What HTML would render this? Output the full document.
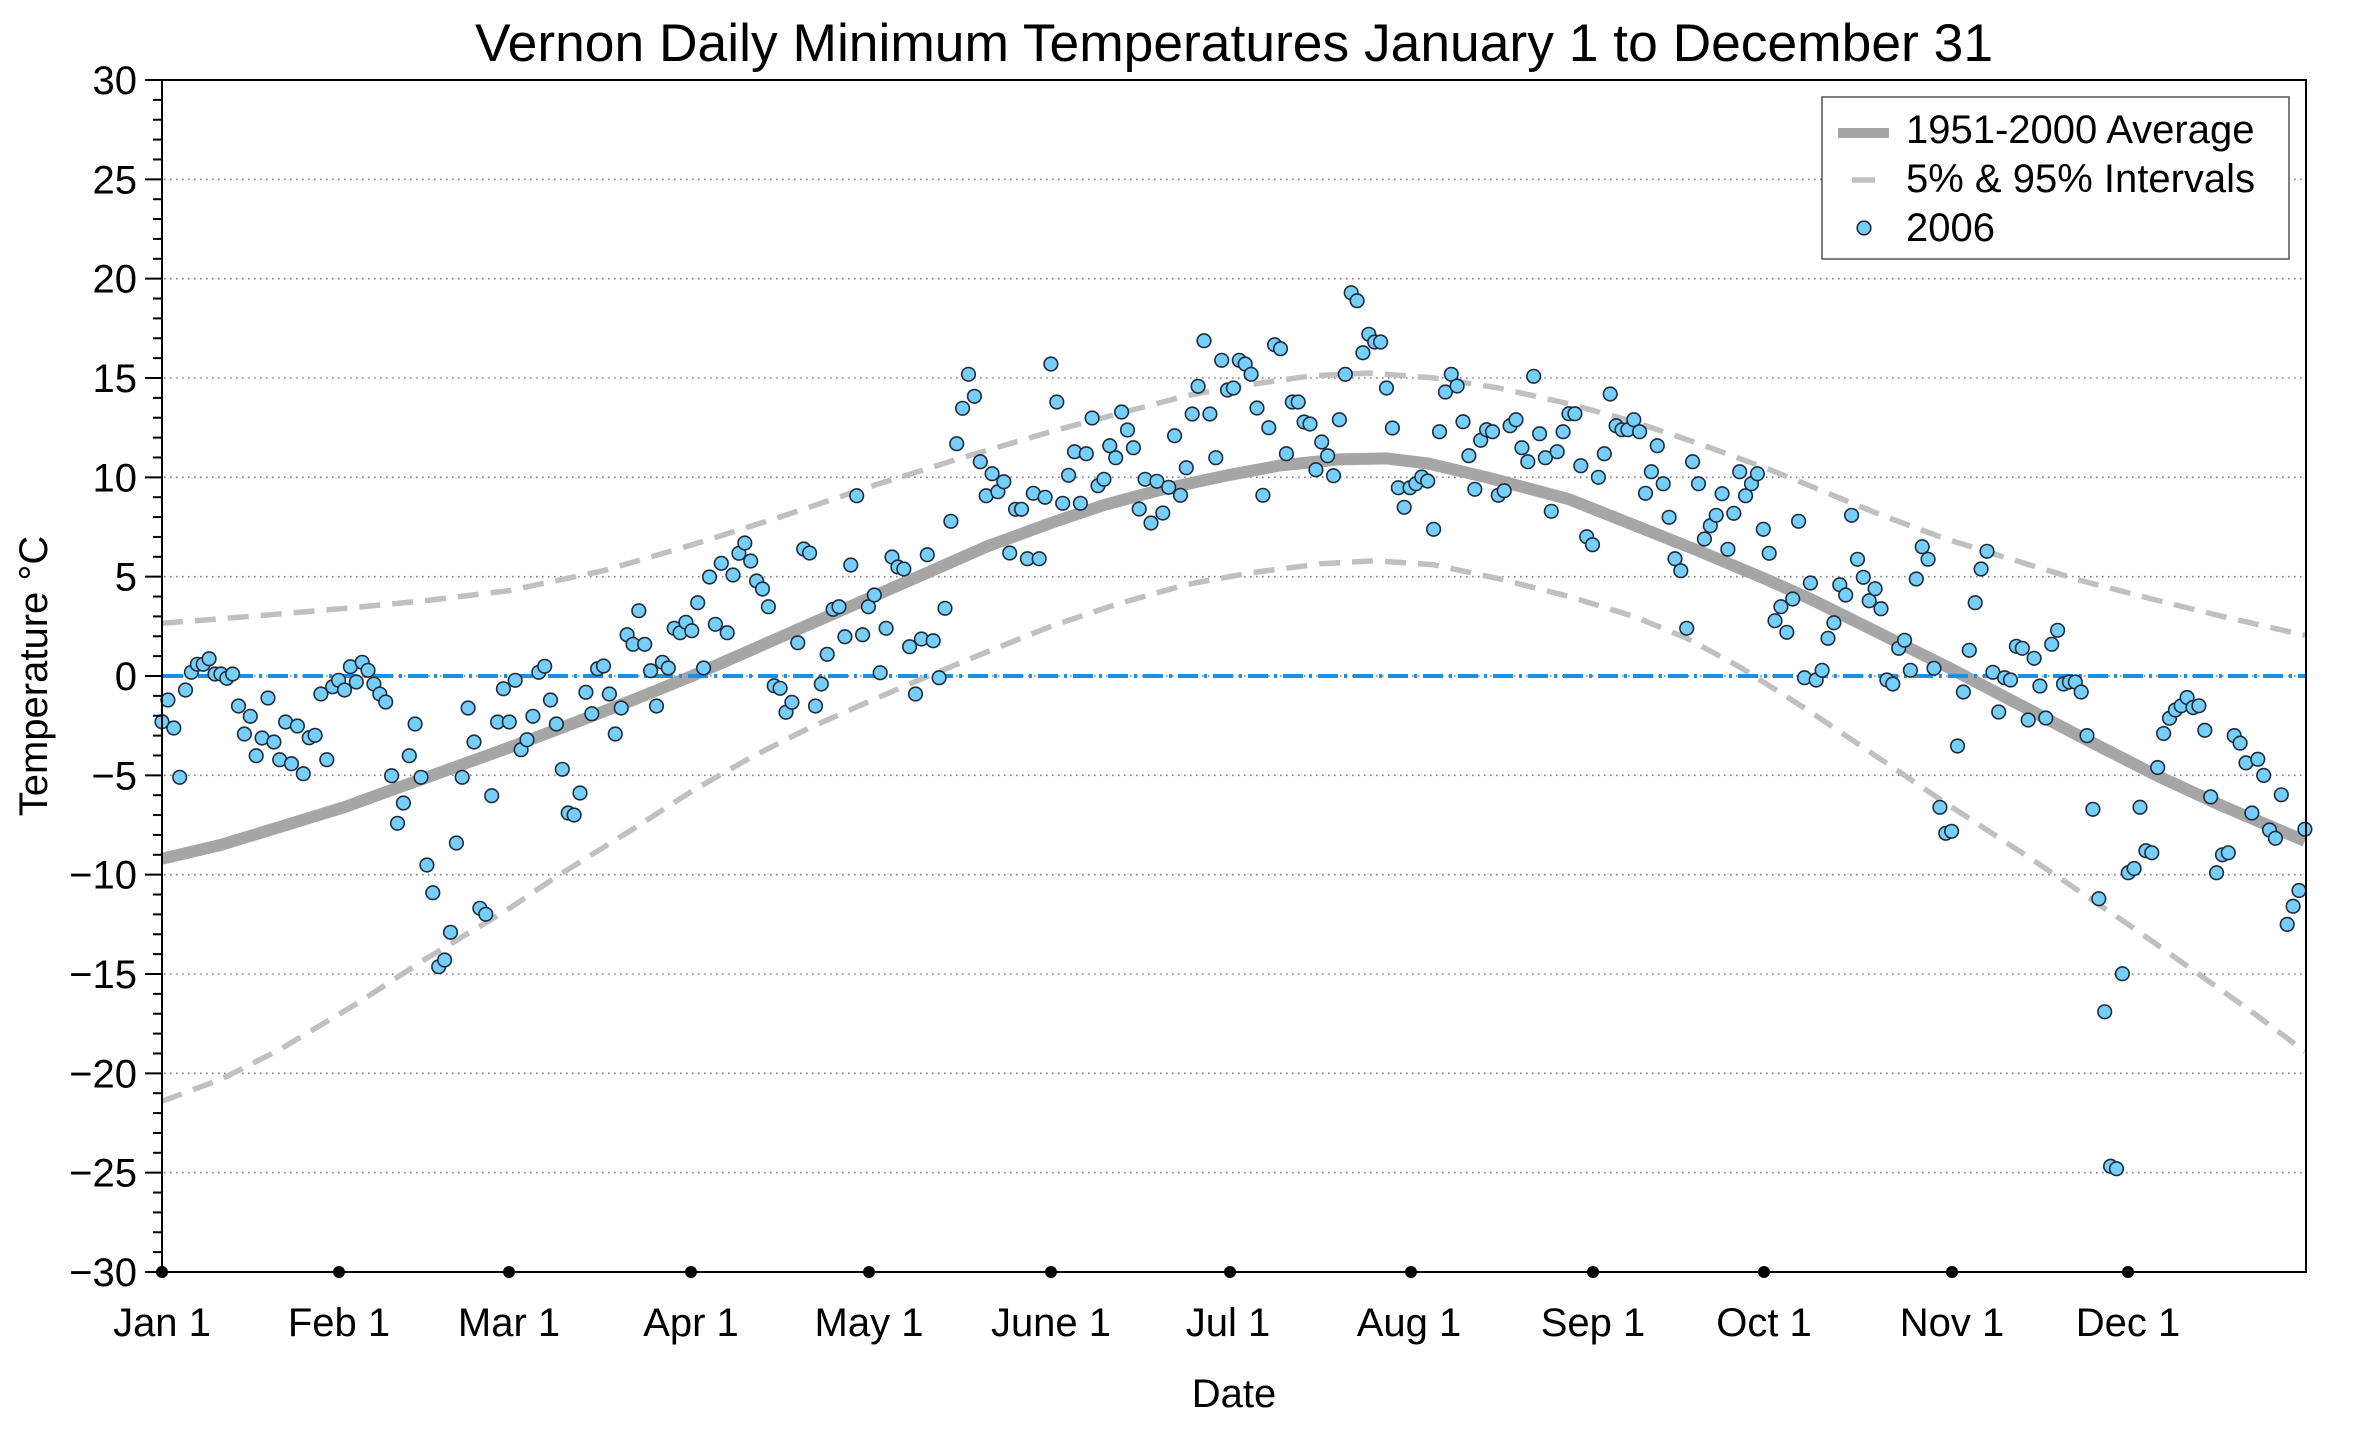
<!DOCTYPE html>
<html><head><meta charset="utf-8"><style>
html,body{margin:0;padding:0;background:#fff;}
body{width:2360px;height:1432px;overflow:hidden;}
svg{display:block;}
text{font-family:"Liberation Sans",Arial,Helvetica,sans-serif;fill:#000;}
</style></head><body>
<svg width="2360" height="1432" viewBox="0 0 2360 1432" xmlns="http://www.w3.org/2000/svg">
<rect width="2360" height="1432" fill="#fff"/>
<text x="1234" y="61" font-size="53" text-anchor="middle" textLength="1518" lengthAdjust="spacingAndGlyphs">Vernon Daily Minimum Temperatures January 1 to December 31</text>
<g stroke="#808080" stroke-width="1.6" stroke-dasharray="1.6 4.4" fill="none">
<line x1="164" y1="179.3" x2="2306" y2="179.3"/>
<line x1="164" y1="278.7" x2="2306" y2="278.7"/>
<line x1="164" y1="378" x2="2306" y2="378"/>
<line x1="164" y1="477.3" x2="2306" y2="477.3"/>
<line x1="164" y1="576.7" x2="2306" y2="576.7"/>
<line x1="164" y1="676" x2="2306" y2="676"/>
<line x1="164" y1="775.3" x2="2306" y2="775.3"/>
<line x1="164" y1="874.7" x2="2306" y2="874.7"/>
<line x1="164" y1="974" x2="2306" y2="974"/>
<line x1="164" y1="1073.3" x2="2306" y2="1073.3"/>
<line x1="164" y1="1172.7" x2="2306" y2="1172.7"/>
</g>
<g fill="none" stroke="#c0c0c0" stroke-width="5.5" stroke-dasharray="21 12" stroke-linejoin="round">
<polyline points="162,623.3 250.3,616.4 344.5,608.4 426.9,600.5 509.3,590.6 603.5,570.7 691.8,544.9 780.1,517 868.4,487.2 956.7,459.4 1050.9,431.6 1133.4,409.7 1186.3,395.8 1227.5,387.9 1310,376 1368.8,373 1433.6,377.9 1498.3,387.9 1569,403.8 1633.8,421.7 1698.5,443.5 1769.2,469.4 1810.4,486 1881,515 1945.8,538.9 2016.4,560.8 2081.2,580.6 2157.7,600.5 2222.5,616.4 2304.9,635.3"/>
<polyline points="162,1101.2 220.9,1079.4 279.7,1049.6 356.3,1003.9 426.9,958.2 509.3,908.5 556.4,876.7 633,829 691.8,791.2 750.7,757.5 809.6,727.7 868.4,701.8 921.4,679 986.2,652.2 1050.9,626.3 1115.7,604.5 1186.3,584.6 1251.1,572.7 1321.7,563.7 1374.7,560.8 1433.6,564.7 1498.3,578.6 1569,596.5 1633.8,616.4 1686.7,638.2 1739.7,666.9 1810.4,711.8 1881,759.5 1945.8,803.2 2028.2,856.8 2069.4,884.6 2128.3,924.4 2193,970.1 2251.9,1011.8 2304.9,1051.5"/>
</g>
<polyline fill="none" stroke="#a6a6a6" stroke-width="12" stroke-linejoin="round" points="162,858.8 220.9,844.9 279.7,827 344.5,807.1 426.9,777.3 509.3,747.5 562.3,727.5 633,700 691.8,676 750.7,650.2 809.6,624.3 868.4,598.5 927.3,572.7 986.2,546.8 1050.9,523 1103.9,505.1 1162.8,489.2 1227.5,475.3 1280.5,465.4 1339.4,459.4 1386.5,458.4 1427.7,463.4 1486.6,477.3 1569,499.2 1633.8,525 1698.5,550.8 1769.2,580.6 1810.4,599 1881,634 1945.8,666.1 2016.4,703 2081.2,737 2157.7,776 2222.5,806 2304.9,840.9"/>
<line x1="163" y1="676" x2="2305" y2="676" stroke="#1a8fe6" stroke-width="4" stroke-dasharray="20 6 3 6"/>
<g fill="#76cffa" stroke="#1f2d3a" stroke-width="1.6">
<circle cx="162" cy="721.7" r="6.8"/><circle cx="167.9" cy="700" r="6.8"/><circle cx="173.8" cy="728" r="6.8"/><circle cx="179.7" cy="777.3" r="6.8"/><circle cx="185.5" cy="690" r="6.8"/><circle cx="191.4" cy="672.3" r="6.8"/><circle cx="197.3" cy="664.3" r="6.8"/><circle cx="203.2" cy="664.3" r="6.8"/><circle cx="209.1" cy="658.7" r="6.8"/><circle cx="215" cy="674" r="6.8"/>
<circle cx="220.9" cy="674" r="6.8"/><circle cx="226.8" cy="678.3" r="6.8"/><circle cx="232.6" cy="674" r="6.8"/><circle cx="238.5" cy="706" r="6.8"/><circle cx="244.4" cy="734" r="6.8"/><circle cx="250.3" cy="716.3" r="6.8"/><circle cx="256.2" cy="755.7" r="6.8"/><circle cx="262.1" cy="738" r="6.8"/><circle cx="268" cy="698" r="6.8"/><circle cx="273.9" cy="742" r="6.8"/>
<circle cx="279.7" cy="759.7" r="6.8"/><circle cx="285.6" cy="722" r="6.8"/><circle cx="291.5" cy="763.7" r="6.8"/><circle cx="297.4" cy="726" r="6.8"/><circle cx="303.3" cy="773.7" r="6.8"/><circle cx="309.2" cy="737.7" r="6.8"/><circle cx="315.1" cy="735.3" r="6.8"/><circle cx="320.9" cy="694" r="6.8"/><circle cx="326.8" cy="759.7" r="6.8"/><circle cx="332.7" cy="686.7" r="6.8"/>
<circle cx="338.6" cy="680.3" r="6.8"/><circle cx="344.5" cy="690" r="6.8"/><circle cx="350.4" cy="666.7" r="6.8"/><circle cx="356.3" cy="682" r="6.8"/><circle cx="362.2" cy="662.3" r="6.8"/><circle cx="368" cy="670.3" r="6.8"/><circle cx="373.9" cy="684" r="6.8"/><circle cx="379.8" cy="694" r="6.8"/><circle cx="385.7" cy="702" r="6.8"/><circle cx="391.6" cy="775.7" r="6.8"/>
<circle cx="397.5" cy="823.3" r="6.8"/><circle cx="403.4" cy="803" r="6.8"/><circle cx="409.3" cy="755.7" r="6.8"/><circle cx="415.1" cy="724" r="6.8"/><circle cx="421" cy="777.3" r="6.8"/><circle cx="426.9" cy="865" r="6.8"/><circle cx="432.8" cy="892.7" r="6.8"/><circle cx="438.7" cy="966.7" r="6.8"/><circle cx="444.6" cy="960" r="6.8"/><circle cx="450.5" cy="932.3" r="6.8"/>
<circle cx="456.4" cy="843" r="6.8"/><circle cx="462.2" cy="777.3" r="6.8"/><circle cx="468.1" cy="708" r="6.8"/><circle cx="474" cy="742" r="6.8"/><circle cx="479.9" cy="908.3" r="6.8"/><circle cx="485.8" cy="914.3" r="6.8"/><circle cx="491.7" cy="795.7" r="6.8"/><circle cx="497.6" cy="722" r="6.8"/><circle cx="503.4" cy="688.7" r="6.8"/><circle cx="509.3" cy="722" r="6.8"/>
<circle cx="515.2" cy="680.3" r="6.8"/><circle cx="521.1" cy="749.7" r="6.8"/><circle cx="527" cy="739.7" r="6.8"/><circle cx="532.9" cy="716.3" r="6.8"/><circle cx="538.8" cy="672.3" r="6.8"/><circle cx="544.7" cy="666.3" r="6.8"/><circle cx="550.5" cy="700" r="6.8"/><circle cx="556.4" cy="724" r="6.8"/><circle cx="562.3" cy="769.3" r="6.8"/><circle cx="568.2" cy="813" r="6.8"/>
<circle cx="574.1" cy="815" r="6.8"/><circle cx="580" cy="793" r="6.8"/><circle cx="585.9" cy="692.3" r="6.8"/><circle cx="591.8" cy="713.7" r="6.8"/><circle cx="597.6" cy="668.7" r="6.8"/><circle cx="603.5" cy="666" r="6.8"/><circle cx="609.4" cy="694" r="6.8"/><circle cx="615.3" cy="734" r="6.8"/><circle cx="621.2" cy="708" r="6.8"/><circle cx="627.1" cy="634.7" r="6.8"/>
<circle cx="633" cy="644.3" r="6.8"/><circle cx="638.8" cy="610.7" r="6.8"/><circle cx="644.7" cy="644.3" r="6.8"/><circle cx="650.6" cy="670.7" r="6.8"/><circle cx="656.5" cy="706" r="6.8"/><circle cx="662.4" cy="662.3" r="6.8"/><circle cx="668.3" cy="668" r="6.8"/><circle cx="674.2" cy="628.3" r="6.8"/><circle cx="680.1" cy="632.7" r="6.8"/><circle cx="685.9" cy="622.3" r="6.8"/>
<circle cx="691.8" cy="630.7" r="6.8"/><circle cx="697.7" cy="602.7" r="6.8"/><circle cx="703.6" cy="668" r="6.8"/><circle cx="709.5" cy="577" r="6.8"/><circle cx="715.4" cy="624.3" r="6.8"/><circle cx="721.3" cy="563.3" r="6.8"/><circle cx="727.2" cy="632.7" r="6.8"/><circle cx="733" cy="575" r="6.8"/><circle cx="738.9" cy="553.3" r="6.8"/><circle cx="744.8" cy="543" r="6.8"/>
<circle cx="750.7" cy="561" r="6.8"/><circle cx="756.6" cy="581" r="6.8"/><circle cx="762.5" cy="589" r="6.8"/><circle cx="768.4" cy="606.7" r="6.8"/><circle cx="774.2" cy="685.7" r="6.8"/><circle cx="780.1" cy="688.3" r="6.8"/><circle cx="786" cy="712.3" r="6.8"/><circle cx="791.9" cy="702.3" r="6.8"/><circle cx="797.8" cy="642.7" r="6.8"/><circle cx="803.7" cy="549" r="6.8"/>
<circle cx="809.6" cy="553" r="6.8"/><circle cx="815.5" cy="706" r="6.8"/><circle cx="821.3" cy="684" r="6.8"/><circle cx="827.2" cy="654.3" r="6.8"/><circle cx="833.1" cy="609.3" r="6.8"/><circle cx="839" cy="606.7" r="6.8"/><circle cx="844.9" cy="636.7" r="6.8"/><circle cx="850.8" cy="565" r="6.8"/><circle cx="856.7" cy="495.7" r="6.8"/><circle cx="862.6" cy="634.7" r="6.8"/>
<circle cx="868.4" cy="606.7" r="6.8"/><circle cx="874.3" cy="595" r="6.8"/><circle cx="880.2" cy="672.7" r="6.8"/><circle cx="886.1" cy="628.3" r="6.8"/><circle cx="892" cy="557" r="6.8"/><circle cx="897.9" cy="567" r="6.8"/><circle cx="903.8" cy="569" r="6.8"/><circle cx="909.6" cy="646.7" r="6.8"/><circle cx="915.5" cy="694" r="6.8"/><circle cx="921.4" cy="639" r="6.8"/>
<circle cx="927.3" cy="554.7" r="6.8"/><circle cx="933.2" cy="640.7" r="6.8"/><circle cx="939.1" cy="677.7" r="6.8"/><circle cx="945" cy="608.3" r="6.8"/><circle cx="950.9" cy="521.3" r="6.8"/><circle cx="956.7" cy="443.7" r="6.8"/><circle cx="962.6" cy="408.3" r="6.8"/><circle cx="968.5" cy="374.3" r="6.8"/><circle cx="974.4" cy="396.3" r="6.8"/><circle cx="980.3" cy="461.7" r="6.8"/>
<circle cx="986.2" cy="495.7" r="6.8"/><circle cx="992.1" cy="473.7" r="6.8"/><circle cx="997.9" cy="491.7" r="6.8"/><circle cx="1003.8" cy="481.7" r="6.8"/><circle cx="1009.7" cy="553" r="6.8"/><circle cx="1015.6" cy="509.3" r="6.8"/><circle cx="1021.5" cy="509.3" r="6.8"/><circle cx="1027.4" cy="558.7" r="6.8"/><circle cx="1033.3" cy="493.3" r="6.8"/><circle cx="1039.2" cy="558.7" r="6.8"/>
<circle cx="1045.1" cy="497.3" r="6.8"/><circle cx="1050.9" cy="364" r="6.8"/><circle cx="1056.8" cy="402" r="6.8"/><circle cx="1062.7" cy="503.3" r="6.8"/><circle cx="1068.6" cy="475.3" r="6.8"/><circle cx="1074.5" cy="451.7" r="6.8"/><circle cx="1080.4" cy="503.3" r="6.8"/><circle cx="1086.3" cy="453.7" r="6.8"/><circle cx="1092.1" cy="418" r="6.8"/><circle cx="1098" cy="485.7" r="6.8"/>
<circle cx="1103.9" cy="479.3" r="6.8"/><circle cx="1109.8" cy="445.7" r="6.8"/><circle cx="1115.7" cy="457.7" r="6.8"/><circle cx="1121.6" cy="412" r="6.8"/><circle cx="1127.5" cy="430" r="6.8"/><circle cx="1133.4" cy="447.7" r="6.8"/><circle cx="1139.2" cy="509" r="6.8"/><circle cx="1145.1" cy="479.3" r="6.8"/><circle cx="1151" cy="523" r="6.8"/><circle cx="1156.9" cy="481.3" r="6.8"/>
<circle cx="1162.8" cy="513" r="6.8"/><circle cx="1168.7" cy="487.3" r="6.8"/><circle cx="1174.6" cy="435.7" r="6.8"/><circle cx="1180.5" cy="495.3" r="6.8"/><circle cx="1186.3" cy="467.7" r="6.8"/><circle cx="1192.2" cy="414" r="6.8"/><circle cx="1198.1" cy="386.3" r="6.8"/><circle cx="1204" cy="340.7" r="6.8"/><circle cx="1209.9" cy="414" r="6.8"/><circle cx="1215.8" cy="457.7" r="6.8"/>
<circle cx="1221.7" cy="360.3" r="6.8"/><circle cx="1227.5" cy="390" r="6.8"/><circle cx="1233.4" cy="388" r="6.8"/><circle cx="1239.3" cy="360.3" r="6.8"/><circle cx="1245.2" cy="364" r="6.8"/><circle cx="1251.1" cy="374.3" r="6.8"/><circle cx="1257" cy="408" r="6.8"/><circle cx="1262.9" cy="495.3" r="6.8"/><circle cx="1268.8" cy="427.7" r="6.8"/><circle cx="1274.6" cy="344.7" r="6.8"/>
<circle cx="1280.5" cy="348.7" r="6.8"/><circle cx="1286.4" cy="453.7" r="6.8"/><circle cx="1292.3" cy="402" r="6.8"/><circle cx="1298.2" cy="402" r="6.8"/><circle cx="1304.1" cy="422" r="6.8"/><circle cx="1310" cy="424" r="6.8"/><circle cx="1315.9" cy="469.7" r="6.8"/><circle cx="1321.7" cy="442" r="6.8"/><circle cx="1327.6" cy="455.7" r="6.8"/><circle cx="1333.5" cy="475.7" r="6.8"/>
<circle cx="1339.4" cy="419.7" r="6.8"/><circle cx="1345.3" cy="374.3" r="6.8"/><circle cx="1351.2" cy="292.7" r="6.8"/><circle cx="1357.1" cy="300.7" r="6.8"/><circle cx="1362.9" cy="352.7" r="6.8"/><circle cx="1368.8" cy="334.3" r="6.8"/><circle cx="1374.7" cy="342" r="6.8"/><circle cx="1380.6" cy="342" r="6.8"/><circle cx="1386.5" cy="388" r="6.8"/><circle cx="1392.4" cy="428" r="6.8"/>
<circle cx="1398.3" cy="487.7" r="6.8"/><circle cx="1404.2" cy="507.3" r="6.8"/><circle cx="1410" cy="487.7" r="6.8"/><circle cx="1415.9" cy="483.7" r="6.8"/><circle cx="1421.8" cy="477" r="6.8"/><circle cx="1427.7" cy="481" r="6.8"/><circle cx="1433.6" cy="529.3" r="6.8"/><circle cx="1439.5" cy="431.7" r="6.8"/><circle cx="1445.4" cy="392" r="6.8"/><circle cx="1451.3" cy="374.3" r="6.8"/>
<circle cx="1457.1" cy="386" r="6.8"/><circle cx="1463" cy="421.7" r="6.8"/><circle cx="1468.9" cy="455.7" r="6.8"/><circle cx="1474.8" cy="489.3" r="6.8"/><circle cx="1480.7" cy="440.3" r="6.8"/><circle cx="1486.6" cy="429.7" r="6.8"/><circle cx="1492.5" cy="431.7" r="6.8"/><circle cx="1498.3" cy="495.3" r="6.8"/><circle cx="1504.2" cy="490.7" r="6.8"/><circle cx="1510.1" cy="425.7" r="6.8"/>
<circle cx="1516" cy="419.7" r="6.8"/><circle cx="1521.9" cy="447.7" r="6.8"/><circle cx="1527.8" cy="461.7" r="6.8"/><circle cx="1533.7" cy="376.3" r="6.8"/><circle cx="1539.6" cy="433.7" r="6.8"/><circle cx="1545.4" cy="457.7" r="6.8"/><circle cx="1551.3" cy="511.3" r="6.8"/><circle cx="1557.2" cy="451.7" r="6.8"/><circle cx="1563.1" cy="431.7" r="6.8"/><circle cx="1569" cy="413.7" r="6.8"/>
<circle cx="1574.9" cy="413.7" r="6.8"/><circle cx="1580.8" cy="465.7" r="6.8"/><circle cx="1586.7" cy="536.7" r="6.8"/><circle cx="1592.5" cy="544.7" r="6.8"/><circle cx="1598.4" cy="477.3" r="6.8"/><circle cx="1604.3" cy="453.7" r="6.8"/><circle cx="1610.2" cy="394" r="6.8"/><circle cx="1616.1" cy="425.7" r="6.8"/><circle cx="1622" cy="429.7" r="6.8"/><circle cx="1627.9" cy="429.7" r="6.8"/>
<circle cx="1633.8" cy="419.7" r="6.8"/><circle cx="1639.6" cy="431.7" r="6.8"/><circle cx="1645.5" cy="493.3" r="6.8"/><circle cx="1651.4" cy="471.7" r="6.8"/><circle cx="1657.3" cy="445.7" r="6.8"/><circle cx="1663.2" cy="483.7" r="6.8"/><circle cx="1669.1" cy="517.3" r="6.8"/><circle cx="1675" cy="558.7" r="6.8"/><circle cx="1680.8" cy="570.7" r="6.8"/><circle cx="1686.7" cy="628.3" r="6.8"/>
<circle cx="1692.6" cy="461.7" r="6.8"/><circle cx="1698.5" cy="483.7" r="6.8"/><circle cx="1704.4" cy="539" r="6.8"/><circle cx="1710.3" cy="525.7" r="6.8"/><circle cx="1716.2" cy="515.3" r="6.8"/><circle cx="1722.1" cy="493.7" r="6.8"/><circle cx="1727.9" cy="549.3" r="6.8"/><circle cx="1733.8" cy="513.3" r="6.8"/><circle cx="1739.7" cy="471.7" r="6.8"/><circle cx="1745.6" cy="495.7" r="6.8"/>
<circle cx="1751.5" cy="483.7" r="6.8"/><circle cx="1757.4" cy="473.7" r="6.8"/><circle cx="1763.3" cy="529.3" r="6.8"/><circle cx="1769.2" cy="553.3" r="6.8"/><circle cx="1775" cy="620.7" r="6.8"/><circle cx="1780.9" cy="606.7" r="6.8"/><circle cx="1786.8" cy="632.3" r="6.8"/><circle cx="1792.7" cy="599" r="6.8"/><circle cx="1798.6" cy="521.3" r="6.8"/><circle cx="1804.5" cy="677.7" r="6.8"/>
<circle cx="1810.4" cy="583" r="6.8"/><circle cx="1816.2" cy="680" r="6.8"/><circle cx="1822.1" cy="670.3" r="6.8"/><circle cx="1828" cy="638.3" r="6.8"/><circle cx="1833.9" cy="622.7" r="6.8"/><circle cx="1839.8" cy="584.7" r="6.8"/><circle cx="1845.7" cy="595" r="6.8"/><circle cx="1851.6" cy="515.3" r="6.8"/><circle cx="1857.5" cy="559.3" r="6.8"/><circle cx="1863.3" cy="577.3" r="6.8"/>
<circle cx="1869.2" cy="600.7" r="6.8"/><circle cx="1875.1" cy="588.7" r="6.8"/><circle cx="1881" cy="608.7" r="6.8"/><circle cx="1886.9" cy="680" r="6.8"/><circle cx="1892.8" cy="684" r="6.8"/><circle cx="1898.7" cy="648.3" r="6.8"/><circle cx="1904.6" cy="640.3" r="6.8"/><circle cx="1910.4" cy="670.3" r="6.8"/><circle cx="1916.3" cy="579" r="6.8"/><circle cx="1922.2" cy="546.7" r="6.8"/>
<circle cx="1928.1" cy="559.3" r="6.8"/><circle cx="1934" cy="668.3" r="6.8"/><circle cx="1939.9" cy="807.3" r="6.8"/><circle cx="1945.8" cy="833.3" r="6.8"/><circle cx="1951.6" cy="831.3" r="6.8"/><circle cx="1957.5" cy="746" r="6.8"/><circle cx="1963.4" cy="692" r="6.8"/><circle cx="1969.3" cy="650.3" r="6.8"/><circle cx="1975.2" cy="602.7" r="6.8"/><circle cx="1981.1" cy="569" r="6.8"/>
<circle cx="1987" cy="551.3" r="6.8"/><circle cx="1992.9" cy="672.3" r="6.8"/><circle cx="1998.7" cy="712" r="6.8"/><circle cx="2004.6" cy="677.7" r="6.8"/><circle cx="2010.5" cy="680" r="6.8"/><circle cx="2016.4" cy="646.3" r="6.8"/><circle cx="2022.3" cy="648.3" r="6.8"/><circle cx="2028.2" cy="720" r="6.8"/><circle cx="2034.1" cy="658.3" r="6.8"/><circle cx="2039.9" cy="686" r="6.8"/>
<circle cx="2045.8" cy="718" r="6.8"/><circle cx="2051.7" cy="644.3" r="6.8"/><circle cx="2057.6" cy="630.3" r="6.8"/><circle cx="2063.5" cy="684" r="6.8"/><circle cx="2069.4" cy="682" r="6.8"/><circle cx="2075.3" cy="682" r="6.8"/><circle cx="2081.2" cy="692" r="6.8"/><circle cx="2087" cy="735.6" r="6.8"/><circle cx="2092.9" cy="809.3" r="6.8"/><circle cx="2098.8" cy="898.7" r="6.8"/>
<circle cx="2104.7" cy="1011.8" r="6.8"/><circle cx="2110.6" cy="1166.2" r="6.8"/><circle cx="2116.5" cy="1168.7" r="6.8"/><circle cx="2122.4" cy="973.7" r="6.8"/><circle cx="2128.3" cy="872.7" r="6.8"/><circle cx="2134.1" cy="868.5" r="6.8"/><circle cx="2140" cy="807.2" r="6.8"/><circle cx="2145.9" cy="850.7" r="6.8"/><circle cx="2151.8" cy="852.8" r="6.8"/><circle cx="2157.7" cy="767.5" r="6.8"/>
<circle cx="2163.6" cy="733.5" r="6.8"/><circle cx="2169.5" cy="718.2" r="6.8"/><circle cx="2175.4" cy="710" r="6.8"/><circle cx="2181.2" cy="705.8" r="6.8"/><circle cx="2187.1" cy="697.5" r="6.8"/><circle cx="2193" cy="707.5" r="6.8"/><circle cx="2198.9" cy="705.8" r="6.8"/><circle cx="2204.8" cy="730.2" r="6.8"/><circle cx="2210.7" cy="796.9" r="6.8"/><circle cx="2216.6" cy="872.7" r="6.8"/>
<circle cx="2222.5" cy="854.8" r="6.8"/><circle cx="2228.3" cy="852.8" r="6.8"/><circle cx="2234.2" cy="735.6" r="6.8"/><circle cx="2240.1" cy="743.1" r="6.8"/><circle cx="2246" cy="762.9" r="6.8"/><circle cx="2251.9" cy="813" r="6.8"/><circle cx="2257.8" cy="759.2" r="6.8"/><circle cx="2263.7" cy="775.4" r="6.8"/><circle cx="2269.5" cy="830" r="6.8"/><circle cx="2275.4" cy="838.3" r="6.8"/>
<circle cx="2281.3" cy="794.8" r="6.8"/><circle cx="2287.2" cy="924.4" r="6.8"/><circle cx="2293.1" cy="906.2" r="6.8"/><circle cx="2299" cy="890.5" r="6.8"/><circle cx="2304.9" cy="829.2" r="6.8"/>
</g>
<rect x="162" y="80" width="2144" height="1192" fill="none" stroke="#000" stroke-width="2"/>
<g stroke="#000" stroke-width="2">
<line x1="145" y1="80" x2="162" y2="80"/><line x1="153" y1="99.87" x2="162" y2="99.87"/><line x1="153" y1="119.73" x2="162" y2="119.73"/><line x1="153" y1="139.6" x2="162" y2="139.6"/><line x1="153" y1="159.47" x2="162" y2="159.47"/>
<line x1="145" y1="179.33" x2="162" y2="179.33"/><line x1="153" y1="199.2" x2="162" y2="199.2"/><line x1="153" y1="219.07" x2="162" y2="219.07"/><line x1="153" y1="238.93" x2="162" y2="238.93"/><line x1="153" y1="258.8" x2="162" y2="258.8"/>
<line x1="145" y1="278.67" x2="162" y2="278.67"/><line x1="153" y1="298.53" x2="162" y2="298.53"/><line x1="153" y1="318.4" x2="162" y2="318.4"/><line x1="153" y1="338.27" x2="162" y2="338.27"/><line x1="153" y1="358.13" x2="162" y2="358.13"/>
<line x1="145" y1="378" x2="162" y2="378"/><line x1="153" y1="397.87" x2="162" y2="397.87"/><line x1="153" y1="417.73" x2="162" y2="417.73"/><line x1="153" y1="437.6" x2="162" y2="437.6"/><line x1="153" y1="457.47" x2="162" y2="457.47"/>
<line x1="145" y1="477.33" x2="162" y2="477.33"/><line x1="153" y1="497.2" x2="162" y2="497.2"/><line x1="153" y1="517.07" x2="162" y2="517.07"/><line x1="153" y1="536.93" x2="162" y2="536.93"/><line x1="153" y1="556.8" x2="162" y2="556.8"/>
<line x1="145" y1="576.67" x2="162" y2="576.67"/><line x1="153" y1="596.53" x2="162" y2="596.53"/><line x1="153" y1="616.4" x2="162" y2="616.4"/><line x1="153" y1="636.27" x2="162" y2="636.27"/><line x1="153" y1="656.13" x2="162" y2="656.13"/>
<line x1="145" y1="676" x2="162" y2="676"/><line x1="153" y1="695.87" x2="162" y2="695.87"/><line x1="153" y1="715.73" x2="162" y2="715.73"/><line x1="153" y1="735.6" x2="162" y2="735.6"/><line x1="153" y1="755.47" x2="162" y2="755.47"/>
<line x1="145" y1="775.33" x2="162" y2="775.33"/><line x1="153" y1="795.2" x2="162" y2="795.2"/><line x1="153" y1="815.07" x2="162" y2="815.07"/><line x1="153" y1="834.93" x2="162" y2="834.93"/><line x1="153" y1="854.8" x2="162" y2="854.8"/>
<line x1="145" y1="874.67" x2="162" y2="874.67"/><line x1="153" y1="894.53" x2="162" y2="894.53"/><line x1="153" y1="914.4" x2="162" y2="914.4"/><line x1="153" y1="934.27" x2="162" y2="934.27"/><line x1="153" y1="954.13" x2="162" y2="954.13"/>
<line x1="145" y1="974" x2="162" y2="974"/><line x1="153" y1="993.87" x2="162" y2="993.87"/><line x1="153" y1="1013.73" x2="162" y2="1013.73"/><line x1="153" y1="1033.6" x2="162" y2="1033.6"/><line x1="153" y1="1053.47" x2="162" y2="1053.47"/>
<line x1="145" y1="1073.33" x2="162" y2="1073.33"/><line x1="153" y1="1093.2" x2="162" y2="1093.2"/><line x1="153" y1="1113.07" x2="162" y2="1113.07"/><line x1="153" y1="1132.93" x2="162" y2="1132.93"/><line x1="153" y1="1152.8" x2="162" y2="1152.8"/>
<line x1="145" y1="1172.67" x2="162" y2="1172.67"/><line x1="153" y1="1192.53" x2="162" y2="1192.53"/><line x1="153" y1="1212.4" x2="162" y2="1212.4"/><line x1="153" y1="1232.27" x2="162" y2="1232.27"/><line x1="153" y1="1252.13" x2="162" y2="1252.13"/>
<line x1="145" y1="1272" x2="162" y2="1272"/>
</g>
<g font-size="40" text-anchor="end">
<text x="137" y="94">30</text>
<text x="137" y="193.3">25</text>
<text x="137" y="292.7">20</text>
<text x="137" y="392">15</text>
<text x="137" y="491.3">10</text>
<text x="137" y="590.7">5</text>
<text x="137" y="690">0</text>
<text x="137" y="789.3">−5</text>
<text x="137" y="888.7">−10</text>
<text x="137" y="988">−15</text>
<text x="137" y="1087.3">−20</text>
<text x="137" y="1186.7">−25</text>
<text x="137" y="1286">−30</text>
</g>
<g fill="#000">
<circle cx="162" cy="1272" r="6"/><circle cx="339" cy="1272" r="6"/><circle cx="509" cy="1272" r="6"/><circle cx="691" cy="1272" r="6"/><circle cx="869" cy="1272" r="6"/><circle cx="1051" cy="1272" r="6"/><circle cx="1230" cy="1272" r="6"/><circle cx="1411" cy="1272" r="6"/><circle cx="1593" cy="1272" r="6"/><circle cx="1764" cy="1272" r="6"/><circle cx="1952" cy="1272" r="6"/><circle cx="2128" cy="1272" r="6"/>
</g>
<g font-size="40" text-anchor="middle">
<text x="162" y="1336">Jan 1</text>
<text x="339" y="1336">Feb 1</text>
<text x="509" y="1336">Mar 1</text>
<text x="691" y="1336">Apr 1</text>
<text x="869" y="1336">May 1</text>
<text x="1051" y="1336">June 1</text>
<text x="1228" y="1336">Jul 1</text>
<text x="1409" y="1336">Aug 1</text>
<text x="1593" y="1336">Sep 1</text>
<text x="1764" y="1336">Oct 1</text>
<text x="1952" y="1336">Nov 1</text>
<text x="2128" y="1336">Dec 1</text>
<text x="1234" y="1407">Date</text>
<text transform="translate(47,676) rotate(-90)" x="0" y="0">Temperature °C</text>
</g>
<rect x="1822" y="97" width="467" height="162" fill="#fff" stroke="#555" stroke-width="1.5"/>
<line x1="1838" y1="133" x2="1889" y2="133" stroke="#a6a6a6" stroke-width="10"/>
<line x1="1852" y1="180" x2="1875" y2="180" stroke="#c0c0c0" stroke-width="5.5"/>
<circle cx="1864" cy="228" r="6.8" fill="#76cffa" stroke="#1f2d3a" stroke-width="1.6"/>
<g font-size="40">
<text x="1906" y="143">1951-2000 Average</text>
<text x="1906" y="192">5% &amp; 95% Intervals</text>
<text x="1906" y="241">2006</text>
</g>
</svg>
</body></html>
